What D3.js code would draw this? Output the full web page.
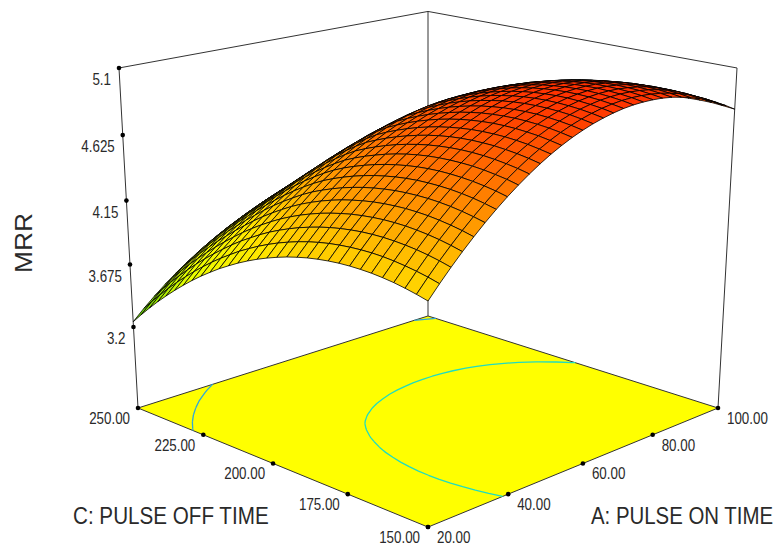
<!DOCTYPE html>
<html>
<head>
<meta charset="utf-8">
<script src="https://cdn.jsdelivr.net/npm/d3@7"></script>
<style>
  html, body { margin: 0; background: #fff; }
  svg { display: block; }
  text { font-family: "Liberation Sans", Arial, sans-serif; fill: #2a2a2a; }
</style>
</head>
<body>
<div id="chart"></div>
<script>
// tick labels
var pulseOnTicks = [20, 40, 60, 80, 100];
var pulseOffTicks = [150, 175, 200, 225, 250];
var mrrTicks = [3.2, 3.675, 4.15, 4.625, 5.1];
var contourLevels = [3.675, 4.625];

// MRR, one row per PULSE OFF TIME step (150 to 250), one column per PULSE ON TIME step (20 to 100)
var mrrGrid = [
  [4.100,4.189,4.273,4.353,4.428,4.499,4.565,4.627,4.684,4.737,4.786,4.830,4.869,4.904,4.934,4.960,4.981,4.998,5.011,5.019,5.022,5.021,5.016,5.006,4.991,4.972,4.949,4.921,4.888,4.851,4.810],
  [4.120,4.209,4.293,4.372,4.447,4.517,4.583,4.645,4.702,4.754,4.802,4.845,4.884,4.919,4.949,4.974,4.995,5.012,5.024,5.032,5.035,5.033,5.027,5.017,5.002,4.983,4.959,4.930,4.898,4.860,4.818],
  [4.137,4.225,4.309,4.388,4.462,4.532,4.598,4.659,4.715,4.767,4.815,4.858,4.897,4.931,4.960,4.986,5.006,5.022,5.034,5.041,5.044,5.042,5.036,5.025,5.010,4.990,4.966,4.937,4.903,4.866,4.824],
  [4.151,4.238,4.322,4.400,4.474,4.544,4.609,4.670,4.726,4.777,4.824,4.867,4.905,4.939,4.968,4.993,5.013,5.029,5.040,5.047,5.049,5.047,5.040,5.029,5.014,4.993,4.969,4.940,4.906,4.868,4.825],
  [4.161,4.248,4.331,4.409,4.483,4.552,4.617,4.677,4.733,4.784,4.831,4.873,4.911,4.944,4.973,4.997,5.017,5.033,5.043,5.050,5.052,5.049,5.042,5.030,5.014,4.994,4.969,4.939,4.905,4.866,4.823],
  [4.168,4.255,4.337,4.415,4.488,4.557,4.621,4.681,4.736,4.787,4.833,4.875,4.913,4.946,4.974,4.998,5.018,5.033,5.043,5.049,5.050,5.048,5.040,5.028,5.012,4.991,4.965,4.935,4.901,4.862,4.818],
  [4.171,4.258,4.340,4.417,4.490,4.558,4.622,4.682,4.736,4.787,4.833,4.874,4.912,4.944,4.972,4.996,5.015,5.029,5.039,5.045,5.046,5.043,5.035,5.022,5.005,4.984,4.958,4.928,4.893,4.854,4.810],
  [4.171,4.257,4.339,4.416,4.488,4.556,4.620,4.679,4.733,4.783,4.829,4.870,4.907,4.939,4.967,4.990,5.009,5.023,5.032,5.037,5.038,5.034,5.026,5.013,4.996,4.974,4.948,4.917,4.882,4.842,4.798],
  [4.168,4.253,4.335,4.411,4.483,4.551,4.614,4.673,4.727,4.776,4.822,4.862,4.899,4.931,4.958,4.981,4.999,5.013,5.022,5.027,5.027,5.023,5.014,5.001,4.983,4.961,4.934,4.903,4.867,4.827,4.783],
  [4.161,4.246,4.327,4.403,4.475,4.542,4.605,4.663,4.717,4.766,4.811,4.851,4.888,4.919,4.946,4.968,4.986,4.999,5.008,5.012,5.012,5.008,4.999,4.985,4.967,4.944,4.917,4.886,4.850,4.809,4.764],
  [4.151,4.236,4.316,4.392,4.463,4.530,4.592,4.650,4.704,4.752,4.797,4.837,4.873,4.904,4.930,4.952,4.970,4.982,4.991,4.995,4.994,4.989,4.980,4.966,4.947,4.924,4.897,4.865,4.828,4.788,4.742],
  [4.138,4.222,4.302,4.377,4.448,4.515,4.577,4.634,4.687,4.735,4.779,4.819,4.855,4.885,4.911,4.933,4.950,4.962,4.970,4.974,4.973,4.968,4.958,4.943,4.924,4.901,4.873,4.841,4.804,4.763,4.717],
  [4.121,4.205,4.284,4.359,4.430,4.496,4.557,4.614,4.667,4.715,4.758,4.798,4.833,4.863,4.889,4.910,4.927,4.939,4.946,4.950,4.948,4.942,4.932,4.917,4.898,4.874,4.846,4.813,4.776,4.734,4.688],
  [4.101,4.184,4.263,4.338,4.408,4.474,4.535,4.591,4.643,4.691,4.734,4.773,4.808,4.838,4.863,4.884,4.900,4.912,4.919,4.922,4.920,4.914,4.903,4.888,4.868,4.844,4.816,4.782,4.745,4.703,4.656],
  [4.077,4.160,4.239,4.313,4.383,4.448,4.509,4.565,4.617,4.664,4.707,4.745,4.780,4.809,4.834,4.854,4.870,4.882,4.888,4.891,4.889,4.882,4.871,4.855,4.835,4.811,4.782,4.748,4.710,4.667,4.620],
  [4.050,4.133,4.211,4.285,4.354,4.419,4.480,4.536,4.587,4.634,4.676,4.714,4.748,4.777,4.801,4.821,4.837,4.848,4.854,4.856,4.854,4.847,4.835,4.819,4.799,4.774,4.745,4.711,4.672,4.629,4.582],
  [4.020,4.102,4.180,4.253,4.322,4.387,4.447,4.502,4.553,4.600,4.642,4.679,4.713,4.741,4.765,4.785,4.800,4.810,4.817,4.818,4.815,4.808,4.796,4.780,4.759,4.734,4.704,4.670,4.631,4.587,4.540],
  [3.986,4.068,4.146,4.218,4.285,4.349,4.408,4.462,4.511,4.557,4.598,4.634,4.667,4.694,4.718,4.737,4.752,4.762,4.769,4.770,4.768,4.760,4.749,4.733,4.713,4.688,4.658,4.624,4.586,4.542,4.494],
  [3.949,4.030,4.107,4.178,4.244,4.306,4.364,4.417,4.465,4.509,4.549,4.584,4.615,4.643,4.665,4.684,4.698,4.709,4.715,4.716,4.715,4.708,4.697,4.682,4.662,4.637,4.608,4.575,4.537,4.494,4.445],
  [3.908,3.990,4.064,4.135,4.200,4.261,4.317,4.369,4.415,4.458,4.497,4.531,4.561,4.588,4.609,4.628,4.642,4.652,4.658,4.660,4.658,4.652,4.642,4.627,4.608,4.584,4.556,4.522,4.484,4.442,4.393],
  [3.865,3.944,4.020,4.089,4.153,4.212,4.266,4.316,4.361,4.402,4.440,4.473,4.503,4.528,4.549,4.567,4.581,4.591,4.597,4.599,4.598,4.592,4.582,4.568,4.550,4.527,4.500,4.467,4.429,4.385,4.337],
  [3.817,3.897,3.971,4.039,4.102,4.159,4.212,4.261,4.305,4.344,4.380,4.413,4.442,4.466,4.486,4.504,4.517,4.528,4.534,4.536,4.534,4.529,4.520,4.507,4.489,4.467,4.440,4.408,4.370,4.327,4.278],
  [3.767,3.846,3.918,3.985,4.047,4.103,4.154,4.202,4.244,4.283,4.318,4.348,4.376,4.400,4.419,4.436,4.449,4.459,4.466,4.468,4.468,4.463,4.454,4.441,4.424,4.402,4.376,4.344,4.307,4.264,4.215],
  [3.713,3.791,3.863,3.929,3.990,4.045,4.096,4.142,4.183,4.221,4.254,4.284,4.311,4.333,4.354,4.369,4.383,4.392,4.398,4.401,4.400,4.396,4.387,4.375,4.358,4.336,4.311,4.279,4.242,4.199,4.149],
  [3.655,3.733,3.805,3.870,3.930,3.984,4.034,4.080,4.120,4.158,4.190,4.220,4.246,4.269,4.288,4.303,4.316,4.325,4.330,4.334,4.333,4.328,4.319,4.306,4.290,4.268,4.242,4.211,4.174,4.130,4.080],
  [3.594,3.672,3.744,3.808,3.869,3.923,3.973,4.018,4.058,4.095,4.128,4.157,4.183,4.205,4.224,4.239,4.252,4.260,4.265,4.267,4.266,4.261,4.252,4.239,4.221,4.198,4.172,4.139,4.102,4.058,4.007],
  [3.530,3.608,3.679,3.744,3.804,3.859,3.909,3.954,3.995,4.033,4.066,4.094,4.121,4.143,4.161,4.176,4.188,4.196,4.201,4.202,4.200,4.194,4.183,4.168,4.150,4.126,4.099,4.065,4.026,3.982,3.931],
  [3.463,3.540,3.611,3.677,3.738,3.793,3.844,3.890,3.931,3.968,4.002,4.032,4.059,4.081,4.099,4.114,4.125,4.133,4.137,4.137,4.133,4.125,4.114,4.098,4.078,4.053,4.024,3.989,3.949,3.903,3.852],
  [3.392,3.469,3.541,3.606,3.668,3.723,3.774,3.821,3.863,3.901,3.935,3.965,3.992,4.014,4.032,4.047,4.058,4.064,4.068,4.066,4.062,4.053,4.040,4.023,4.001,3.975,3.945,3.908,3.868,3.821,3.769],
  [3.318,3.395,3.466,3.532,3.594,3.650,3.703,3.750,3.793,3.831,3.866,3.896,3.924,3.946,3.964,3.978,3.988,3.994,3.996,3.995,3.989,3.978,3.964,3.946,3.923,3.894,3.862,3.825,3.783,3.736,3.683],
  [3.240,3.317,3.388,3.454,3.516,3.573,3.625,3.673,3.716,3.755,3.789,3.820,3.848,3.870,3.888,3.902,3.911,3.917,3.919,3.916,3.908,3.897,3.882,3.862,3.837,3.809,3.776,3.737,3.695,3.647,3.594]
];

var svgWidth = 779;
var svgHeight = 546;

var svg = d3.select("#chart").append("svg")
    .attr("width", svgWidth)
    .attr("height", svgHeight);

// scales into the unit box
var aScale = d3.scaleLinear().domain([20, 100]).range([-1, 1]);
var cScale = d3.scaleLinear().domain([150, 250]).range([-1, 1]);
var zScale = d3.scaleLinear().domain([3.2, 5.1]).range([0.25, 1]);

// perspective camera fitted to the box corners
function project(a, c, r) {
  var p = a - c, q = a + c;
  var w = 1 + 0.064 * q - 0.0615 * r;
  return [428 + 145 * p / w, (408 - 25.8 * q - 344.2 * r) / w];
}
function at(on, off, mrr) {
  return project(aScale(on), cScale(off), mrr == null ? 0 : zScale(mrr));
}

var nRows = mrrGrid.length, nCols = mrrGrid[0].length;
var onAt = d3.scaleLinear().domain([0, nCols - 1]).range([20, 100]);
var offAt = d3.scaleLinear().domain([0, nRows - 1]).range([150, 250]);

var colour = d3.scaleLinear()
    .domain([3.24, 3.7, 4.05, 5.05])
    .range(["#50d000", "#e8ff00", "#ffe800", "#ff3000"])
    .clamp(true);

var line = d3.line();
var boxColour = "#333";

// back walls
var top5 = 5.1;
var wall = svg.append("g").attr("fill", "none").attr("stroke", boxColour).attr("stroke-width", 1);
wall.append("path").attr("d", line([at(20, 250, top5), at(100, 250, top5), at(100, 150, top5)]));
wall.append("path").attr("d", line([at(20, 250, top5), at(20, 250)]));
wall.append("path").attr("d", line([at(100, 250, top5), at(100, 250)]));
wall.append("path").attr("d", line([at(100, 150, top5), at(100, 150)]));

// floor
svg.append("path")
    .attr("d", line([at(20, 250), at(100, 250), at(100, 150), at(20, 150)]) + "Z")
    .attr("fill", "#ffff00")
    .attr("stroke", boxColour)
    .attr("stroke-width", 1);

// contours on the floor, cut where they run along the grid edge
var flat = [];
mrrGrid.forEach(function(row) { row.forEach(function(v) { flat.push(v); }); });
var contours = d3.contours().size([nCols, nRows]).thresholds(contourLevels)(flat);
var contourColours = ["#30a8d8", "#20dcc0"];
function inside(pt) {
  return pt[0] >= 0.5 && pt[0] <= nCols - 0.5 && pt[1] >= 0.5 && pt[1] <= nRows - 0.5;
}
contours.forEach(function(ct, k) {
  var d = "";
  ct.coordinates.forEach(function(poly) {
    poly.forEach(function(ring) {
      for (var i = 1; i < ring.length; i++) {
        if (inside(ring[i - 1]) && inside(ring[i])) {
          var s = at(onAt(ring[i - 1][0] - 0.5), offAt(ring[i - 1][1] - 0.5));
          var e = at(onAt(ring[i][0] - 0.5), offAt(ring[i][1] - 0.5));
          d += "M" + s[0] + "," + s[1] + "L" + e[0] + "," + e[1];
        }
      }
    });
  });
  svg.append("path").attr("d", d).attr("fill", "none")
      .attr("stroke", contourColours[k]).attr("stroke-width", 1.3);
});

// surface cells, far ones first
var cells = [];
for (var j = 0; j < nRows - 1; j++) {
  for (var i = 0; i < nCols - 1; i++) {
    cells.push({
      depth: (onAt(i) + onAt(i + 1)) / 2 / 80 + (offAt(j) + offAt(j + 1)) / 2 / 100,
      mean: d3.mean([mrrGrid[j][i], mrrGrid[j][i + 1], mrrGrid[j + 1][i], mrrGrid[j + 1][i + 1]]),
      pts: [
        at(onAt(i), offAt(j), mrrGrid[j][i]),
        at(onAt(i + 1), offAt(j), mrrGrid[j][i + 1]),
        at(onAt(i + 1), offAt(j + 1), mrrGrid[j + 1][i + 1]),
        at(onAt(i), offAt(j + 1), mrrGrid[j + 1][i])
      ]
    });
  }
}
cells.sort(function(x, y) { return y.depth - x.depth; });

svg.append("g").selectAll("path")
    .data(cells)
    .enter()
    .append("path")
    .attr("d", function(d) { return line(d.pts) + "Z"; })
    .attr("fill", function(d) { return colour(d.mean); })
    .attr("stroke", "#000")
    .attr("stroke-width", 0.8)
    .attr("stroke-linejoin", "round");

// tick dots and labels, glyphs squeezed sideways like the original bitmap font
function addTicks(values, pos, fmt, dx, dy, anchor) {
  var g = svg.append("g");
  g.selectAll("circle").data(values).enter().append("circle")
      .attr("cx", function(d) { return pos(d)[0]; })
      .attr("cy", function(d) { return pos(d)[1]; })
      .attr("r", 2.3)
      .attr("fill", "#000");
  g.selectAll("text").data(values).enter().append("text")
      .attr("transform", function(d) {
        return "translate(" + (pos(d)[0] + dx) + "," + (pos(d)[1] + dy) + ") scale(0.81,1)";
      })
      .attr("text-anchor", anchor)
      .attr("font-size", 16.5)
      .text(fmt);
}
addTicks(mrrTicks, function(d) { return at(20, 250, d); }, String, -8, 17, "end");
addTicks(pulseOffTicks, function(d) { return at(20, d); }, function(d) { return d.toFixed(2); }, -8, 16, "end");
addTicks(pulseOnTicks, function(d) { return at(d, 150); }, function(d) { return d.toFixed(2); }, 9, 16, "start");

// axis titles
svg.append("text").attr("transform", "translate(73,524) scale(0.86,1)").attr("font-size", 24)
    .text("C: PULSE OFF TIME");
svg.append("text").attr("transform", "translate(591,524) scale(0.85,1)").attr("font-size", 24)
    .text("A: PULSE ON TIME");
svg.append("text").attr("transform", "translate(32,273) rotate(-90) scale(1.1,1)").attr("font-size", 24)
    .text("MRR");
</script>
</body>
</html>
